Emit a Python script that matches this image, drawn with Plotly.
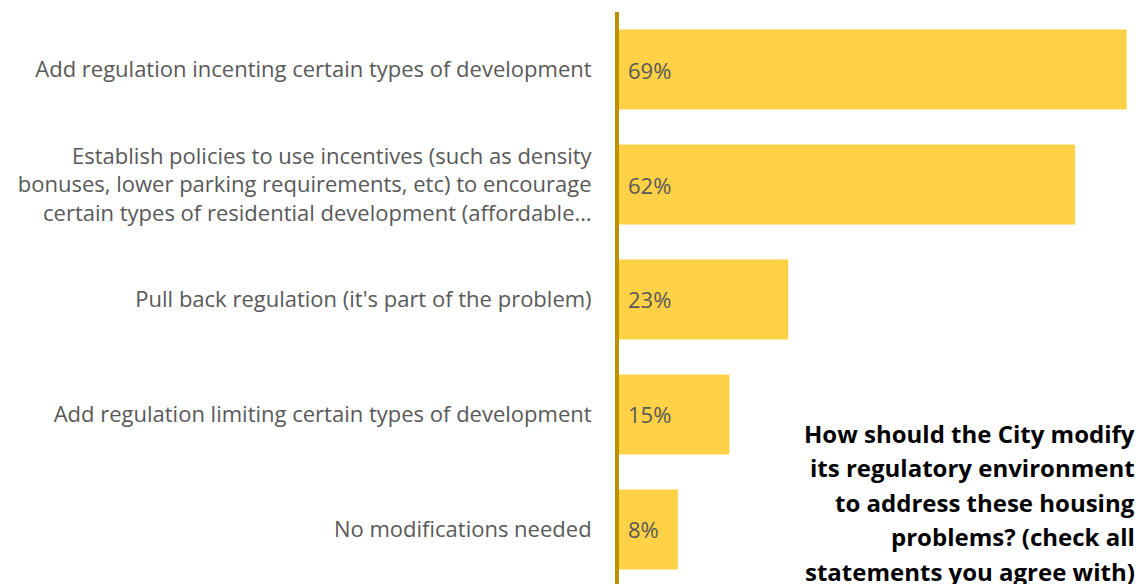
import plotly.graph_objects as go

# Survey responses, in display order (top to bottom)
categories = [
    "Add regulation incenting certain types of development",
    "Establish policies to use incentives (such as density<br>bonuses, lower parking requirements, etc) to encourage<br>certain types of residential development (affordable…",
    "Pull back regulation (it's part of the problem)",
    "Add regulation limiting certain types of development",
    "No modifications needed",
]
shares = [69, 62, 23, 15, 8]
value_labels = [f"{v}%" for v in shares]

question_lines = [
    "How should the City modify",
    "its regulatory environment",
    "to address these housing",
    "problems? (check all",
    "statements you agree with)",
]

BAR_COLOR = "#FFD147"
AXIS_COLOR = "#BF9000"
LABEL_COLOR = "#595959"
FONT = "'Open Sans', sans-serif"

W, H = 1141, 584
PLOT_LEFT = 619
TOP, BOTTOM = 12, 0
PLOT_H = H - TOP - BOTTOM

fig = go.Figure()
fig.add_trace(go.Bar(
    x=shares,
    y=list(range(len(categories))),
    orientation="h",
    marker=dict(color=BAR_COLOR, line=dict(width=0)),
    width=0.696,
    hoverinfo="skip",
))

# Percentage labels just inside the bar base
for i, t in enumerate(value_labels):
    fig.add_annotation(
        x=0, y=i, xref="x", yref="y", text=t, showarrow=False,
        xanchor="left", yanchor="middle", xshift=7,
        font=dict(family=FONT, size=22, color=LABEL_COLOR),
    )

# Question text, right-aligned in the lower right corner, one line at a time
first_center, line_step = 433, 34.5
for k, line in enumerate(question_lines):
    ypix = first_center + k * line_step
    fig.add_annotation(
        x=1.0, y=(H - BOTTOM - ypix) / PLOT_H, xref="paper", yref="paper",
        text=line, showarrow=False, xanchor="right", yanchor="middle",
        xshift=3,
        font=dict(family=FONT, size=24, color="#000000", weight="bold"),
    )

fig.update_layout(
    width=W, height=H,
    margin=dict(l=PLOT_LEFT, r=7, t=TOP, b=BOTTOM),
    paper_bgcolor="white", plot_bgcolor="white",
    showlegend=False,
    xaxis=dict(range=[0, 70], visible=False, fixedrange=True),
    yaxis=dict(
        range=[4.474, -0.5],
        tickmode="array",
        tickvals=list(range(len(categories))),
        ticktext=categories,
        ticks="", showgrid=False, zeroline=False,
        showline=True, linecolor=AXIS_COLOR, linewidth=4,
        ticklabelstandoff=19,
        tickfont=dict(family=FONT, size=22, color=LABEL_COLOR),
        fixedrange=True,
    ),
)

fig.write_html("out.html", config={"displayModeBar": False})
